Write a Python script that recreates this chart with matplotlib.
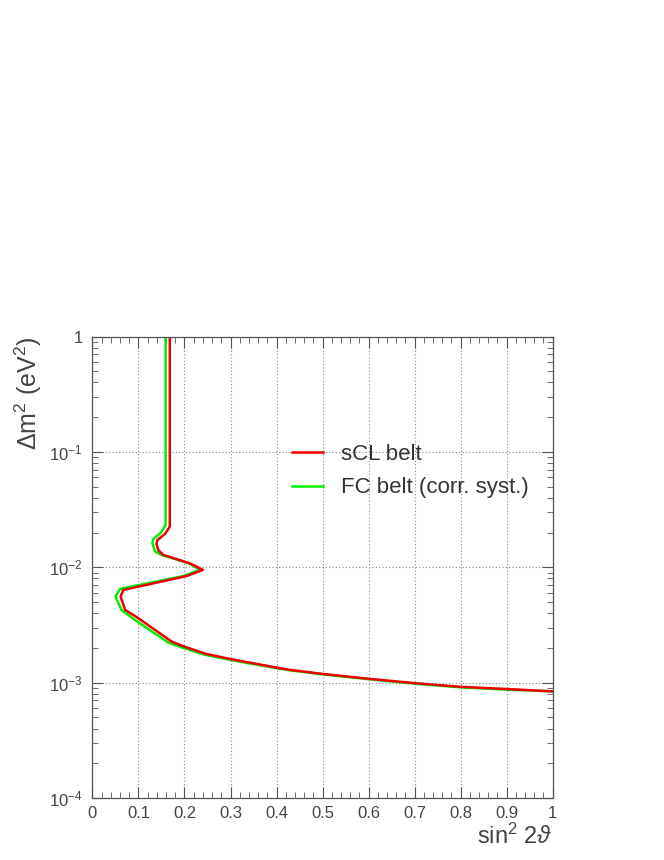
import numpy as np
import matplotlib.pyplot as plt
from matplotlib.ticker import MultipleLocator, LogLocator, NullFormatter, FixedLocator, FixedFormatter

# sCL belt (red)
scl_x = [0.168, 0.168, 0.158, 0.141, 0.139, 0.143, 0.154, 0.212, 0.240, 0.205,
         0.067, 0.061, 0.071, 0.100, 0.172, 0.200, 0.248, 0.300, 0.342, 0.400,
         0.429, 0.500, 0.600, 0.700, 0.800, 0.900, 1.000]
scl_y = [1.0, 0.0225, 0.0195, 0.0172, 0.0160, 0.0141, 0.0128, 0.0108, 0.0095, 0.0084,
         0.00636, 0.00557, 0.00427, 0.00361, 0.00227, 0.00205, 0.00177, 0.00160, 0.00149, 0.00135,
         0.00129, 0.00119, 0.00108, 0.00099, 0.00092, 0.00088, 0.00084]

# FC belt (green)
fc_x = [0.159, 0.159, 0.149, 0.132, 0.130, 0.136, 0.150, 0.210, 0.234, 0.198,
        0.060, 0.050, 0.063, 0.092, 0.165, 0.196, 0.245, 0.298, 0.340, 0.398,
        0.428, 0.500, 0.600, 0.700, 0.800, 0.900, 1.000]
fc_y = [1.0, 0.0233, 0.0200, 0.0175, 0.0162, 0.0137, 0.0128, 0.0108, 0.0095, 0.0084,
        0.0065, 0.00557, 0.00427, 0.00350, 0.00222, 0.00201, 0.00174, 0.00158, 0.00147, 0.00134,
        0.00128, 0.00118, 0.00107, 0.00098, 0.00091, 0.00087, 0.00084]

x_ticks = [0, 0.1, 0.2, 0.3, 0.4, 0.5, 0.6, 0.7, 0.8, 0.9, 1]
x_labels = ['0', '0.1', '0.2', '0.3', '0.4', '0.5', '0.6', '0.7', '0.8', '0.9', '1']
y_ticks = [1e-4, 1e-3, 1e-2, 1e-1, 1]
y_labels = [r'$10^{-4}$', r'$10^{-3}$', r'$10^{-2}$', r'$10^{-1}$', '1']

plt.rcParams['font.family'] = ['Liberation Sans', 'DejaVu Sans']
plt.rcParams['mathtext.fontset'] = 'custom'
plt.rcParams['mathtext.rm'] = 'Liberation Sans'
plt.rcParams['mathtext.it'] = 'Liberation Sans:italic'

text_color = '#444444'

fig = plt.figure(figsize=(6.64, 8.6), dpi=100)
ax = fig.add_axes([0.1393, 0.0721, 0.6928, 0.5366])

ax.plot(fc_x, fc_y, color='#00ee00', lw=1.8, label='FC belt (corr. syst.)')
ax.plot(scl_x, scl_y, color='#ee0000', lw=1.8, label='sCL belt')

ax.set_yscale('log')
ax.set_xlim(0, 1)
ax.set_ylim(1e-4, 1)

ax.xaxis.set_major_locator(FixedLocator(x_ticks))
ax.xaxis.set_major_formatter(FixedFormatter(x_labels))
ax.xaxis.set_minor_locator(MultipleLocator(0.02))
ax.yaxis.set_major_locator(FixedLocator(y_ticks))
ax.yaxis.set_major_formatter(FixedFormatter(y_labels))
ax.yaxis.set_minor_locator(LogLocator(base=10, subs=np.arange(2, 10)))
ax.yaxis.set_minor_formatter(NullFormatter())

ax.tick_params(which='both', direction='in', top=True, right=True,
               colors='#555555', labelcolor=text_color, labelsize=12)
ax.tick_params(which='major', length=8, width=0.8)
ax.tick_params(which='minor', length=4, width=0.6)
ax.tick_params(axis='x', pad=6)
ax.tick_params(axis='y', pad=7)
for s in ax.spines.values():
    s.set_color('#555555')
    s.set_linewidth(0.9)

ax.grid(True, which='major', linestyle=(0, (1, 2)), color='#888888', lw=0.8)

ax.set_xlabel(r'sin$^{2}$ 2$\vartheta$', fontsize=17, color=text_color, loc='right', labelpad=2)
ax.set_ylabel(r'$\Delta$m$^{2}$ (eV$^{2}$)', fontsize=18, color=text_color, loc='top', labelpad=4)

handles, labels = ax.get_legend_handles_labels()
leg = ax.legend(handles[::-1], labels[::-1], frameon=False, loc='upper left',
                bbox_to_anchor=(0.39, 0.81), fontsize=16, handlelength=1.4,
                handletextpad=0.8, labelspacing=0.55)
for t in leg.get_texts():
    t.set_color('#333333')

fig.savefig('out.png', dpi=100)
